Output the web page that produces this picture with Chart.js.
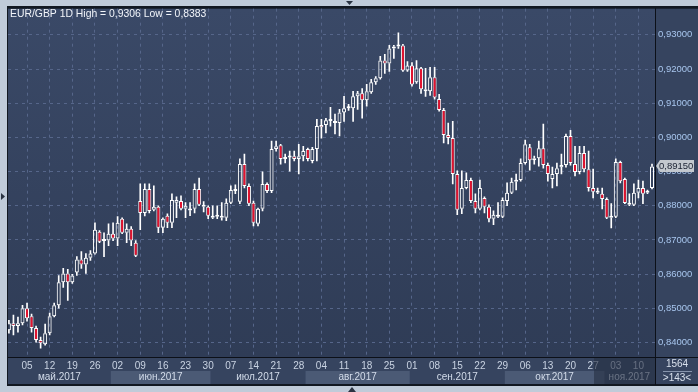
<!DOCTYPE html>
<html><head><meta charset="utf-8">
<script src="https://cdn.jsdelivr.net/npm/chart.js@4/dist/chart.umd.min.js"></script>
<style>html,body{margin:0;padding:0;background:#c0cbd9;overflow:hidden}#wrap{position:relative;width:698px;height:392px}</style>
</head><body><div id="wrap"><canvas id="c" width="698" height="392"></canvas></div>
<script>
const titleText = 'EUR/GBP 1D High = 0,9306 Low = 0,8383';
const startDate = [2017, 4, 1];
const monthNames = ['янв','фев','мар','апр','май','июн','июл','авг','сен','окт','ноя','дек'];
const yTicks = [0.84, 0.85, 0.86, 0.87, 0.88, 0.89, 0.90, 0.91, 0.92, 0.93];
const lastPriceLabel = '0,89150';
const cornerTop = '1564';
const cornerBottom = '>143<';

const opens = [
.8436,.8456,.8448,.8456,.8500,.8477,.8442,.8407,.8395,.8427,
.8477,.8509,.8576,.8602,.8576,.8605,.8643,.8628,.8648,.8660,
.8724,.8698,.8698,.8718,.8704,.8762,.8721,.8733,.8692,.8814,
.8779,.8849,.8788,.8797,.8736,.8771,.8750,.8809,.8814,.8791,
.8788,.8791,.8849,.8797,.8797,.8765,.8771,.8771,.8765,.8809,
.8846,.8812,.8922,.8858,.8809,.8747,.8791,.8864,.8843,.8966,
.8977,.8937,.8942,.8945,.8937,.8945,.8966,.8931,.8966,.9036,
.9036,.9050,.9042,.9042,.9073,.9085,.9085,.9120,.9129,.9109,
.9132,.9161,.9173,.9225,.9216,.9260,.9266,.9269,.9196,.9210,
.9161,.9202,.9135,.9135,.9176,.9112,.9080,.9007,.8998,.8893,
.8791,.8852,.8875,.8814,.8791,.8823,.8797,.8762,.8774,.8768,
.8814,.8838,.8870,.8875,.8925,.8971,.8933,.8939,.8968,.8919,
.8878,.8893,.8913,.8919,.9004,.8922,.8899,.8954,.8907,.8852,
.8841,.8835,.8820,.8765,.8768,.8928,.8878,.8808,.8803,.8838,
.8852,.8841,.8852];
const highs = [
.8465,.8480,.8474,.8509,.8515,.8483,.8448,.8416,.8454,.8486,
.8515,.8596,.8617,.8614,.8599,.8651,.8666,.8660,.8669,.8750,
.8727,.8721,.8747,.8750,.8768,.8765,.8747,.8739,.8698,.8864,
.8864,.8864,.8858,.8800,.8765,.8776,.8835,.8826,.8829,.8809,
.8809,.8864,.8881,.8812,.8800,.8800,.8800,.8809,.8820,.8858,
.8861,.8937,.8951,.8864,.8814,.8793,.8899,.8867,.8989,.8989,
.8980,.8951,.8960,.8960,.8980,.8974,.8969,.8971,.9053,.9053,
.9056,.9088,.9068,.9082,.9120,.9097,.9135,.9135,.9143,.9155,
.9170,.9178,.9237,.9243,.9269,.9269,.9306,.9272,.9222,.9219,
.9225,.9205,.9202,.9205,.9205,.9126,.9085,.9042,.9047,.8902,
.8902,.8896,.8881,.8835,.8875,.8826,.8803,.8785,.8809,.8823,
.8867,.8881,.8893,.8937,.8992,.8980,.8945,.8989,.9039,.8925,
.8913,.8925,.8951,.9010,.9021,.8974,.8974,.8974,.8960,.8907,
.8852,.8852,.8823,.8806,.8937,.8931,.8881,.8835,.8864,.8875,
.8872,.8846,.8922];
const lows = [
.8427,.8422,.8430,.8451,.8462,.8430,.8401,.8383,.8392,.8422,
.8475,.8500,.8561,.8523,.8573,.8596,.8617,.8602,.8640,.8658,
.8692,.8651,.8683,.8698,.8683,.8718,.8692,.8683,.8651,.8730,
.8770,.8779,.8785,.8721,.8721,.8736,.8736,.8765,.8788,.8765,
.8771,.8779,.8800,.8782,.8762,.8762,.8762,.8758,.8756,.8806,
.8835,.8806,.8852,.8800,.8741,.8741,.8785,.8838,.8838,.8960,
.8922,.8925,.8901,.8931,.8893,.8931,.8931,.8925,.8931,.8998,
.9013,.9033,.9010,.9004,.9047,.9079,.9047,.9082,.9056,.9091,
.9129,.9155,.9170,.9187,.9193,.9231,.9260,.9193,.9193,.9150,
.9158,.9129,.9120,.9123,.9112,.9077,.8984,.8981,.8864,.8774,
.8777,.8849,.8809,.8779,.8788,.8779,.8753,.8745,.8765,.8765,
.8800,.8835,.8846,.8872,.8922,.8904,.8922,.8916,.8910,.8872,
.8852,.8858,.8893,.8913,.8919,.8887,.8893,.8899,.8843,.8823,
.8835,.8791,.8762,.8735,.8765,.8867,.8806,.8800,.8800,.8823,
.8806,.8835,.8849];
const closes = [
.8456,.8448,.8456,.8500,.8471,.8442,.8407,.8398,.8427,.8477,
.8509,.8576,.8602,.8576,.8596,.8643,.8628,.8648,.8660,.8730,
.8695,.8697,.8718,.8704,.8750,.8721,.8733,.8698,.8654,.8779,
.8849,.8785,.8797,.8736,.8762,.8750,.8817,.8817,.8791,.8800,
.8786,.8849,.8803,.8803,.8771,.8771,.8768,.8765,.8809,.8846,
.8843,.8922,.8858,.8806,.8750,.8791,.8864,.8843,.8966,.8974,
.8937,.8942,.8941,.8937,.8945,.8960,.8937,.8966,.9033,.9030,
.9050,.9048,.9048,.9073,.9085,.9088,.9120,.9129,.9109,.9135,
.9161,.9173,.9225,.9216,.9260,.9266,.9269,.9196,.9210,.9155,
.9202,.9141,.9141,.9176,.9117,.9080,.9007,.8998,.8893,.8788,
.8852,.8875,.8814,.8791,.8852,.8797,.8762,.8774,.8768,.8817,
.8838,.8870,.8875,.8925,.8980,.8933,.8939,.8968,.8919,.8893,
.8893,.8910,.8919,.9004,.8925,.8899,.8954,.8907,.8852,.8841,
.8838,.8820,.8765,.8771,.8928,.8872,.8808,.8803,.8838,.8852,
.8835,.8838,.8915];

const FRAME = '#c0cbd9', BG_TOP = '#3a4967', BG_BOT = '#2f3c56', AXIS_BG = '#36445f',
      BAND_LIGHT = '#4b5a75', GRID = '#56668a', RED = '#e3122e', FONT = "'Liberation Sans', Arial, sans-serif";

const n = opens.length;
const dates = [];
{ const d = new Date(Date.UTC(startDate[0], startDate[1], startDate[2]));
  while (dates.length < n) { const w = d.getUTCDay(); if (w !== 0 && w !== 6) dates.push(new Date(d)); d.setUTCDate(d.getUTCDate() + 1); } }
const idx = dates.map((_, i) => i);
const fridays = idx.filter(i => dates[i].getUTCDay() === 5);

const bodyData = idx.map(i => ({x: i, y: [opens[i], closes[i]]}));
const upperWick = idx.map(i => ({x: i, y: [Math.max(opens[i], closes[i]), highs[i]]}));
const lowerWick = idx.map(i => ({x: i, y: [lows[i], Math.min(opens[i], closes[i])]}));
const bodyFill = idx.map(i => closes[i] < opens[i] ? RED : 'rgba(0,0,0,0)');

const deco = {
  id: 'deco',
  beforeDraw(chart) {
    const ctx = chart.ctx, ca = chart.chartArea, xs = chart.scales.x;
    ctx.save();
    ctx.fillStyle = FRAME; ctx.fillRect(0, 0, 698, 392);
    ctx.fillStyle = '#121821'; ctx.fillRect(7, 6, 691, 380);
    const g = ctx.createLinearGradient(0, ca.top, 0, ca.bottom);
    g.addColorStop(0, BG_TOP); g.addColorStop(1, BG_BOT);
    ctx.fillStyle = g; ctx.fillRect(ca.left, ca.top, ca.right - ca.left, ca.bottom - ca.top);
    ctx.fillStyle = AXIS_BG;
    ctx.fillRect(ca.left, ca.bottom + 1, ca.right - ca.left, 384 - ca.bottom - 1);
    ctx.fillRect(ca.right + 1, ca.top, 698 - ca.right - 1, 384 - ca.top);
    let m = 0, start = 0;
    for (let i = 1; i <= n; i++) {
      if (i === n || dates[i].getUTCMonth() !== dates[start].getUTCMonth()) {
        const x0 = Math.max(ca.left, xs.getPixelForValue(start - 0.5));
        const x1 = Math.min(ca.right, xs.getPixelForValue(i - 0.5));
        if (m % 2 === 1) { ctx.fillStyle = BAND_LIGHT; ctx.fillRect(x0, 371, x1 - x0, 13); }
        m++; start = i;
      }
    }
    ctx.restore();
  },
  afterDraw(chart) {
    const ctx = chart.ctx, ca = chart.chartArea, xs = chart.scales.x, ys = chart.scales.y;
    ctx.save();
    ctx.font = '10px ' + FONT; ctx.fillStyle = '#d3dcea'; ctx.textAlign = 'center'; ctx.textBaseline = 'middle';
    let start = 0;
    for (let i = 1; i <= n; i++) {
      if (i === n || dates[i].getUTCMonth() !== dates[start].getUTCMonth()) {
        const x0 = Math.max(ca.left, xs.getPixelForValue(start - 0.5));
        const x1 = Math.min(ca.right, xs.getPixelForValue(i - 0.5));
        ctx.fillText(monthNames[dates[start].getUTCMonth()] + '.' + dates[start].getUTCFullYear(), (x0 + x1) / 2, 377.5);
        start = i;
      }
    }
    ctx.fillStyle = 'rgba(38,48,68,0.62)';
    ctx.fillRect(ca.right - 61, ca.bottom + 1, 61, 26);
    ctx.fillStyle = '#0c1018';
    ctx.fillRect(ca.right, ca.top, 1, 385 - ca.top);
    ctx.fillRect(ca.left, ca.bottom, 698 - ca.left, 1);
    ctx.font = '10.4px ' + FONT; ctx.fillStyle = '#f2f5fa'; ctx.textAlign = 'left'; ctx.textBaseline = 'middle';
    ctx.fillText(titleText, 10, 14);
    ctx.font = '10px ' + FONT;
    ctx.fillStyle = '#d8e0ec'; ctx.textAlign = 'center';
    ctx.fillText(cornerTop, 677, 364.5);
    ctx.fillText(cornerBottom, 677, 378.5);
    ctx.fillStyle = '#8795ad'; ctx.fillRect(663, 371, 29, 1);
    const py = Math.round(ys.getPixelForValue(closes[n - 1]));
    ctx.fillStyle = '#c3c8ce';
    ctx.beginPath(); ctx.moveTo(ca.right + 1, py); ctx.lineTo(ca.right + 5, py - 6); ctx.lineTo(694, py - 6);
    ctx.lineTo(694, py + 6); ctx.lineTo(ca.right + 5, py + 6); ctx.closePath(); ctx.fill();
    ctx.fillStyle = '#1b2232'; ctx.textAlign = 'left'; ctx.font = '9.5px ' + FONT;
    ctx.fillText(lastPriceLabel, 659, py + 0.5);
    ctx.fillStyle = '#2a3342';
    ctx.beginPath(); ctx.moveTo(346, 1); ctx.lineTo(353, 1); ctx.lineTo(349.5, 5); ctx.fill();
    ctx.beginPath(); ctx.moveTo(1, 193); ctx.lineTo(1, 200); ctx.lineTo(5, 196.5); ctx.fill();
    ctx.beginPath(); ctx.moveTo(348, 392); ctx.lineTo(356, 392); ctx.lineTo(352, 387); ctx.fill();
    ctx.restore();
  }
};

new Chart(document.getElementById('c'), {
  type: 'bar',
  data: {
    datasets: [
      {data: upperWick, backgroundColor: '#ffffff', borderWidth: 0, barThickness: 1, grouped: false, order: 2},
      {data: lowerWick, backgroundColor: '#ffffff', borderWidth: 0, barThickness: 1, grouped: false, order: 2},
      {data: bodyData, backgroundColor: bodyFill, borderColor: '#ffffff', borderWidth: 1, borderSkipped: false,
       barThickness: 4, minBarLength: 2, grouped: false, inflateAmount: 0, order: 1}
    ]
  },
  options: {
    responsive: false, animation: false, events: [],
    layout: {padding: {left: 8, top: 7, right: 0, bottom: 7}},
    plugins: {legend: {display: false}, tooltip: {enabled: false}, title: {display: false}},
    scales: {
      x: {
        type: 'linear', min: -0.2, max: 142.66, offset: false,
        afterBuildTicks: s => { s.ticks = fridays.map(v => ({value: v})); },
        afterFit: s => { s.height = 28; },
        grid: {color: GRID, offset: false, drawTicks: false},
        border: {display: false, dash: [3, 4]},
        ticks: {color: '#c9d3e2', font: {family: FONT, size: 10}, padding: 3, maxRotation: 0, autoSkip: false,
          callback: v => String(dates[v].getUTCDate()).padStart(2, '0')}
      },
      y: {
        position: 'right', min: 0.83575, max: 0.93765, beginAtZero: false,
        afterBuildTicks: s => { s.ticks = yTicks.map(v => ({value: v})); },
        afterFit: s => { s.width = 43; },
        grid: {color: GRID, drawTicks: false},
        border: {display: false, dash: [3, 4]},
        ticks: {color: '#a8c6ee', font: {family: FONT, size: 9.5}, padding: 3,
          callback: v => v.toFixed(5).replace('.', ',')}
      }
    }
  },
  plugins: [deco]
});
</script></body></html>
